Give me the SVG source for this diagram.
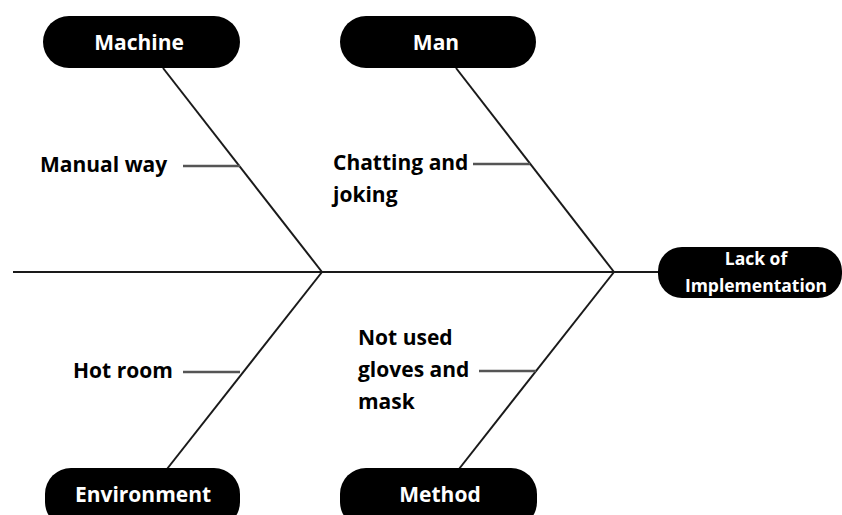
<svg xmlns="http://www.w3.org/2000/svg" width="842" height="515" viewBox="0 0 842 515">
<style>
.box{fill:#000}
.bl{fill:#fff;font-family:"Open Sans","Noto Sans",sans-serif;font-weight:700;font-size:21px;text-anchor:middle}
.sl{fill:#000;font-family:"Open Sans","Noto Sans",sans-serif;font-weight:700;font-size:21px}
.bone{stroke:#1a1a1a;stroke-width:2;fill:none}
.sub{stroke:#555;stroke-width:2.5;fill:none}
</style>
<rect width="842" height="515" fill="#fff"/>
<g id="connectors">
<line class="bone" x1="13" y1="272" x2="660" y2="272"/>
<line class="bone" x1="163" y1="68" x2="322" y2="272"/>
<line class="bone" x1="456" y1="68" x2="614" y2="272"/>
<line class="bone" x1="322" y1="272" x2="167" y2="469"/>
<line class="bone" x1="614" y1="272" x2="459" y2="469"/>
<line class="sub" x1="183" y1="166" x2="240" y2="166"/>
<line class="sub" x1="473" y1="164" x2="530" y2="164"/>
<line class="sub" x1="183" y1="372" x2="240" y2="372"/>
<line class="sub" x1="479" y1="371" x2="536" y2="371"/>
</g>
<g id="machine"><rect class="box" x="43" y="16" width="197" height="52" rx="26"/><text class="bl" x="139" y="50">Machine</text></g>
<g id="man"><rect class="box" x="340" y="16" width="196" height="52" rx="26"/><text class="bl" x="436" y="50">Man</text></g>
<g id="environment"><rect class="box" x="45" y="468" width="195" height="60" rx="26"/><text class="bl" x="143" y="502">Environment</text></g>
<g id="method"><rect class="box" x="340" y="468" width="197" height="60" rx="26"/><text class="bl" x="440" y="502">Method</text></g>
<g id="effect"><rect class="box" x="658" y="247" width="184" height="51" rx="24"/><text class="bl" x="756" y="265" style="font-size:17.5px">Lack of</text><text class="bl" x="756" y="292" style="font-size:17.5px">Implementation</text></g>
<g id="manual-way"><text class="sl" x="40" y="172">Manual way</text></g>
<g id="chatting"><text class="sl" x="333" y="170">Chatting and</text><text class="sl" x="333" y="202">joking</text></g>
<g id="hot-room"><text class="sl" x="73" y="378">Hot room</text></g>
<g id="gloves"><text class="sl" x="358" y="345">Not used</text><text class="sl" x="358" y="377">gloves and</text><text class="sl" x="358" y="409">mask</text></g>
</svg>
